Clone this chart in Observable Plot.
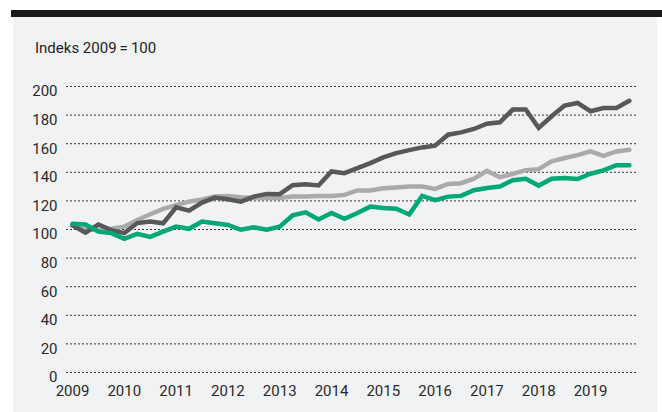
<!DOCTYPE html>
<html>
<head>
<meta charset="utf-8">
<script src="https://cdn.jsdelivr.net/npm/d3@7"></script>
<script src="https://cdn.jsdelivr.net/npm/@observablehq/plot@0.6"></script>
<style>
  html, body { margin: 0; padding: 0; background: #ffffff; }
  #wrap { position: relative; width: 662px; height: 412px; overflow: hidden; font-family: Roboto, "Liberation Sans", sans-serif; }
  #bar { position: absolute; left: 11px; top: 10px; width: 651px; height: 7px; background: #1b1b1b; }
  #panel { position: absolute; left: 13px; top: 17px; width: 644px; height: 395px; background: #f1f2f4; }
  #title { position: absolute; left: 35px; top: 39px; font-size: 15px; line-height: 18px; color: #222; }
  #chart { position: absolute; left: 0; top: 0; }
</style>
</head>
<body>
<div id="wrap">
  <div id="bar"></div>
  <div id="panel"></div>
  <div id="title">Indeks 2009&#8201;=&#8201;100</div>
  <div id="chart"></div>
</div>
<script>
// Quarterly index values, 2009 Q1 – 2019 Q4 (2009 = 100)
const years = [2009, 2010, 2011, 2012, 2013, 2014, 2015, 2016, 2017, 2018, 2019];
const yTicks = [0, 20, 40, 60, 80, 100, 120, 140, 160, 180, 200];

const darkSeries = [
  103, 97.8, 103.5, 99.6, 97.5, 104.5, 105.5, 104.3,
  115.5, 113.2, 118.8, 122.3, 121.2, 119.5, 123, 124.9,
  124.7, 131, 131.7, 130.8, 140.6, 139.4, 142.9, 146.4,
  150.4, 153.4, 155.5, 157.4, 158.6, 166.3, 167.9, 170.3,
  174, 175, 183.9, 183.9, 171, 179.2, 186.7, 188.5,
  182.7, 185, 185, 190
];
const lightSeries = [
  102.5, 100.5, 99.5, 100.5, 102, 106.7, 110.7, 114.4,
  117, 119.5, 121, 123, 123.5, 122.5, 122, 122,
  122, 123, 123, 123.5, 123.5, 124.2, 127.3, 127.3,
  128.9, 129.4, 130, 130, 128.4, 131.9, 132.4, 135.5,
  141, 136.6, 138.9, 141.5, 142.2, 147.6, 150, 152,
  154.6, 151.5, 154.6, 155.8
];
const greenSeries = [
  104, 103.6, 98.5, 97.5, 93.5, 97, 94.8, 98.5,
  102, 100.5, 105.5, 104.3, 103.2, 99.8, 101.5, 99.8,
  102, 110, 112, 107, 111.5, 107.5, 111.5, 116,
  115, 114.5, 110.5, 123.5, 120.5, 123, 123.5, 127.5,
  129, 130, 134.5, 135.5, 130.7, 135.5, 136, 135.3,
  139, 141.3, 145, 145
];

const quarters = years.flatMap(y => [y, y + 0.25, y + 0.5, y + 0.75]);
const series = [
  {name: "light", values: lightSeries, color: "#a9aaac"},
  {name: "dark", values: darkSeries, color: "#58585a"},
  {name: "green", values: greenSeries, color: "#00a876"}
];
const rows = series.flatMap(s => s.values.map((v, i) => ({t: quarters[i], v, name: s.name})));

const pxPerYear = 51.8;
const chart = Plot.plot({
  width: 662,
  height: 412,
  marginLeft: 66,
  marginRight: 26,
  marginTop: 86,
  marginBottom: 40,
  style: {background: "transparent", fontFamily: "Roboto, 'Liberation Sans', sans-serif", fontSize: "15px", color: "#2a2a2a"},
  x: {domain: [2009 - 6 / pxPerYear, 2009 + 564 / pxPerYear]},
  y: {domain: [0, 200]},
  marks: [
    Plot.ruleY(yTicks, {stroke: "#333", strokeWidth: 1, strokeDasharray: "2,2"}),
    Plot.axisY(yTicks, {tickSize: 0, tickPadding: 9, dy: 5, label: null, fontSize: 15}),
    Plot.axisX(years, {tickSize: 0, tickPadding: 13, tickFormat: d => String(d), label: null, fontSize: 15}),
    ...series.map(s => Plot.line(rows.filter(r => r.name === s.name), {
      x: "t", y: "v", stroke: s.color, strokeWidth: 4.5, strokeLinejoin: "miter", strokeMiterlimit: 3
    }))
  ]
});
document.getElementById("chart").appendChild(chart);
</script>
</body>
</html>
